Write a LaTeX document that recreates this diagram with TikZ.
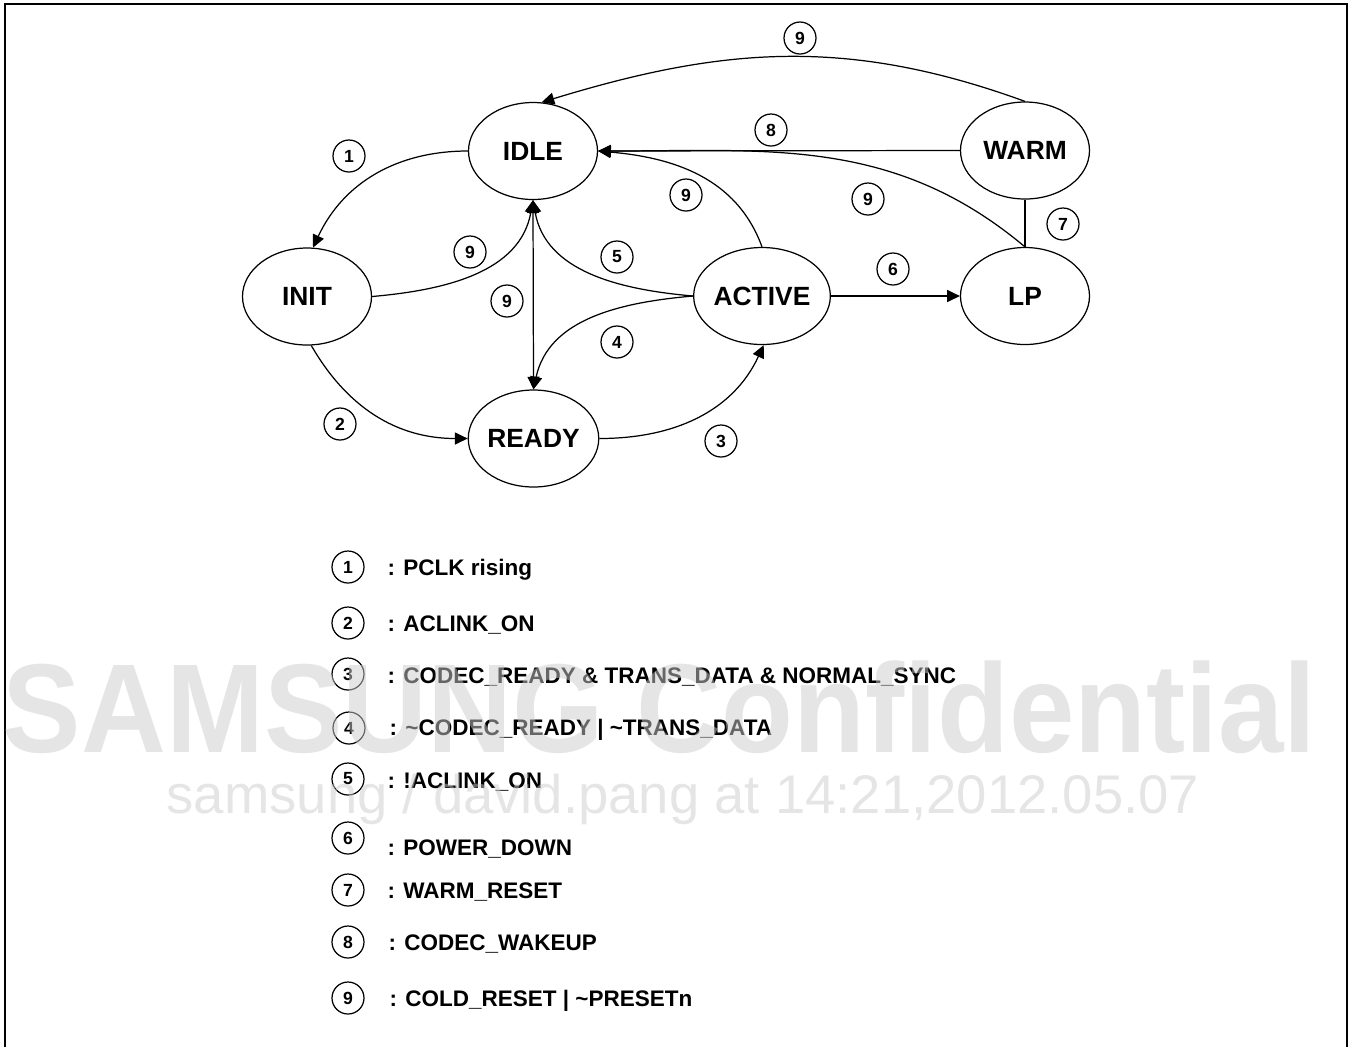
\documentclass[tikz,border=0pt]{standalone}
\usepackage{fontspec}
\setmainfont{Liberation Sans}
\newfontfamily\markfont[FakeStretch=0.93]{Liberation Sans}
\usetikzlibrary{shapes.geometric,arrows.meta}

\tikzset{
  statenode/.style={draw, ellipse, minimum width=1.29cm, minimum height=0.97cm, inner sep=0pt, font=\bfseries\fontsize{7.5}{9}\selectfont},
  cond/.style={draw, circle, minimum size=0.32cm, inner sep=0pt, font=\bfseries\fontsize{5}{6}\selectfont},
  keytext/.style={anchor=base west, inner sep=0pt, font=\bfseries\fontsize{6.4}{8}\selectfont},
  wmark/.style={anchor=base west, inner sep=0pt, text=black!20, text opacity=0.5},
}

\begin{document}
\begin{tikzpicture}[x=1cm,y=1cm, line width=0.35pt, >={Triangle[length=3.6pt,width=3.4pt]}]
\useasboundingbox (0,0) rectangle (13.54,-10.47);
\draw[line width=0.6pt] (0.05,-10.47) -- (0.05,-0.037) -- (13.468,-0.037) -- (13.468,-10.47);

% states
\node[statenode] (idle) at (5.33,-1.51) {IDLE};
\node[statenode] (init) at (3.07,-2.965) {INIT};
\node[statenode] (ready) at (5.335,-4.385) {READY};
\node[statenode] (active) at (7.62,-2.96) {ACTIVE};
\node[statenode] (lp) at (10.25,-2.96) {LP};
\node[statenode] (warm) at (10.25,-1.505) {WARM};

% transitions
\draw[->] (idle.west) to[out=180,in=65] (init.83);
\draw[->] (init.-85) to[out=-60,in=180] (ready.west);
\draw[->] (ready.east) to[out=0,in=-115] (active.-88);
\draw[->] (active.west) to[out=185,in=78] (ready.north);
\draw[->] (active.west) to[out=175,in=-80] (idle.south);
\draw[->] (init.east) to[out=5,in=-100] (idle.south);
\draw[<->] (idle.south) -- (ready.north);
\draw[->] (active.north) to[out=110,in=-5] (idle.east);
\draw[->] (lp.north) to[out=140,in=0] (idle.east);
\draw[->] (warm.west) -- (idle.east);
\draw (warm.south) -- (lp.north);
\draw[->] (active.east) -- (lp.west);
\draw[->] (warm.north) to[out=160,in=17] (idle.80);

% condition marks
\node[cond] (l9a) at (8.00,-0.38) {9};
\node[cond] (l8) at (7.71,-1.30) {8};
\node[cond] (l1) at (3.49,-1.56) {1};
\node[cond] (l9b) at (6.86,-1.95) {9};
\node[cond] (l9c) at (8.68,-1.99) {9};
\node[cond] (l7) at (10.63,-2.24) {7};
\node[cond] (l9d) at (4.70,-2.52) {9};
\node[cond] (l5) at (6.17,-2.57) {5};
\node[cond] (l6) at (8.93,-2.69) {6};
\node[cond] (l9e) at (5.07,-3.01) {9};
\node[cond] (l4) at (6.17,-3.42) {4};
\node[cond] (l2) at (3.40,-4.24) {2};
\node[cond] (l3) at (7.21,-4.41) {3};

% key
\node[cond] (k1) at (3.48,-5.67) {1};
\node[keytext] (d1) at (3.87,-5.75) {: PCLK rising};
\node[cond] (k2) at (3.48,-6.23) {2};
\node[keytext] (d2) at (3.87,-6.31) {: ACLINK\_ON};
\node[cond] (k3) at (3.48,-6.74) {3};
\node[keytext] (d3) at (3.87,-6.83) {: CODEC\_READY \& TRANS\_DATA \& NORMAL\_SYNC};
\node[cond] (k4) at (3.49,-7.28) {4};
\node[keytext] (d4) at (3.89,-7.35) {: \textasciitilde CODEC\_READY | \textasciitilde TRANS\_DATA};
\node[cond] (k5) at (3.48,-7.79) {5};
\node[keytext] (d5) at (3.87,-7.88) {: !ACLINK\_ON};
\node[cond] (k6) at (3.48,-8.38) {6};
\node[keytext] (d6) at (3.87,-8.55) {: POWER\_DOWN};
\node[cond] (k7) at (3.48,-8.90) {7};
\node[keytext] (d7) at (3.87,-8.98) {: WARM\_RESET};
\node[cond] (k8) at (3.48,-9.42) {8};
\node[keytext] (d8) at (3.88,-9.50) {: CODEC\_WAKEUP};
\node[cond] (k9) at (3.48,-9.98) {9};
\node[keytext] (d9) at (3.89,-10.06) {: COLD\_RESET | \textasciitilde PRESETn};

% watermark
\node[wmark, font=\markfont\bfseries\fontsize{36}{40}\selectfont] (mark) at (0.02,-7.52) {SAMSUNG Confidential};
\node[wmark, font=\fontsize{15.5}{18}\selectfont] (stamp) at (1.66,-8.13) {samsung / david.pang at 14:21,2012.05.07};
\end{tikzpicture}
\end{document}
